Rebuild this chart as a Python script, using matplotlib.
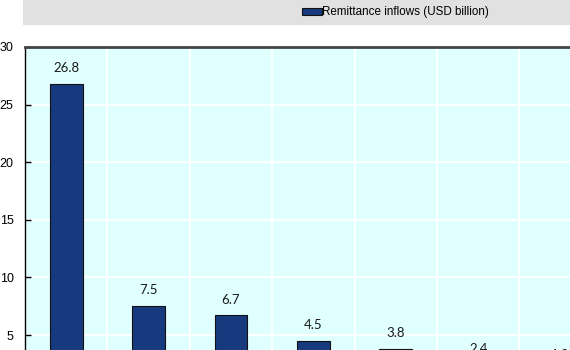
import matplotlib
matplotlib.use("Agg")
import matplotlib.pyplot as plt
from matplotlib.patches import Rectangle

# Values (the picture is a crop, only these bars show)
values = [26.8, 7.5, 6.7, 4.5, 3.8, 2.4, 1.9]
value_labels = ["26.8", "7.5", "6.7", "4.5", "3.8", "2.4", "1.9"]
yticks = [0, 5, 10, 15, 20, 25, 30]
series_name = "Remittance inflows (USD billion)"

bar_color = "#173A7E"
plot_bg = "#E0FFFF"

W, H = 570, 350
fig = plt.figure(figsize=(W / 100, H / 100), dpi=100)
fig.patch.set_facecolor("white")

# grey band behind the legend
fig.patches.append(Rectangle((23 / W, 1 - 25 / H), 1, 25 / H, transform=fig.transFigure,
                             facecolor="#E1E1E1", edgecolor="none", zorder=0))

# axes run past the bottom and right edge, like the cropped original
ax = fig.add_axes([25 / W, -42.6 / H, 576.8 / W, 345.6 / H])
ax.set_facecolor(plot_bg)

x = list(range(len(values)))
bars = ax.bar(x, values, width=0.4, color=bar_color, edgecolor="#111111", linewidth=0.8,
              label=series_name, zorder=3)

for xi, v, lab in zip(x, values, value_labels):
    ax.annotate(lab, (xi, v), xytext=(0, 7), textcoords="offset points",
                ha="center", va="bottom", fontsize=9.5, family=["Lato", "DejaVu Sans"],
                color="#1a1a1a")

ax.set_xlim(-0.5, len(values) - 0.5)
ax.set_ylim(0, 30)
ax.set_yticks(yticks)
ax.set_yticklabels([str(t) for t in yticks], family=["Liberation Sans", "DejaVu Sans"],
                   fontsize=9)
ax.set_xticks([])
ax.set_xticks([i + 0.5 for i in x[:-1]], minor=True)
ax.tick_params(axis="y", direction="in", length=4, width=1, pad=8.2, colors="black")
ax.tick_params(axis="x", which="both", length=0)

ax.grid(True, axis="y", color="white", linewidth=1.4, zorder=1)
ax.grid(True, axis="x", which="minor", color="white", linewidth=1.4, zorder=1)
ax.set_axisbelow(True)

ax.spines["top"].set_color("#444444")
ax.spines["top"].set_linewidth(2)
ax.spines["left"].set_linewidth(1)
ax.spines["right"].set_visible(False)

leg = fig.legend(handles=[bars], labels=[series_name], loc="center left",
                 bbox_to_anchor=(302 / W, 1 - 12.5 / H), frameon=False,
                 handlelength=1.75, handleheight=0.6, handletextpad=0.0,
                 borderpad=0, borderaxespad=0,
                 prop={"family": ["Liberation Sans", "DejaVu Sans"], "size": 8.4})

fig.savefig("out.png", dpi=100)
